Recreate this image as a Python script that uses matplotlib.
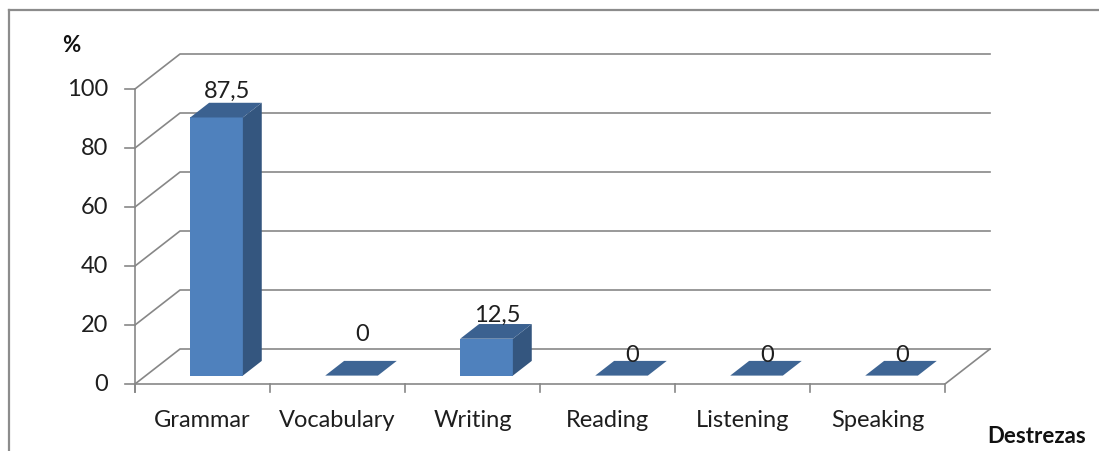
import matplotlib.pyplot as plt
from matplotlib.patches import Polygon
from matplotlib.lines import Line2D

categories = ['Grammar', 'Vocabulary', 'Writing', 'Reading', 'Listening', 'Speaking']
values = [87.5, 0, 12.5, 0, 0, 0]
value_labels = ['87,5', '0', '12,5', '0', '0', '0']
y_ticks = [0, 20, 40, 60, 80, 100]

# small nudges for the data labels (Excel puts them a bit oddly)
label_dy = [12, 17, 11, 10, 10, 10]

W, H = 1099, 452
fig = plt.figure(figsize=(W / 100, H / 100), dpi=100)
ax = fig.add_axes([0, 0, 1, 1])

# pixel frame: category 0 at x=135, 135 px per category; value 0 at y=385, 2.95 px per unit
x0, sx = 135, 135
y0, sy = 385, 2.95
ax.set_xlim(-x0 / sx, (W - x0) / sx)
ax.set_ylim(-(H - y0) / sy, y0 / sy)
ax.axis('off')

DX, DY = 45 / sx, 35 / sy   # depth of the 3d box
n = len(categories)
ymax = 100
grid_c = '#878787'
font = 'Lato'
fs = 17
txt_c = '#1e1e1e'


def P(x, y, d):
    return (x + d * DX, y + d * DY)


# left wall diagonals + back wall gridlines
for t in y_ticks:
    a = P(0, t, 0)
    b = P(0, t, 1)
    c = P(n, t, 1)
    ax.plot([a[0], b[0], c[0]], [a[1], b[1], c[1]], color=grid_c, lw=1.2, zorder=1)
    ax.plot([-10 / sx, 0], [t, t], color=grid_c, lw=1.2, zorder=1)
    ax.text(-27 / sx, t, str(t), ha='right', va='center', fontsize=fs,
            family=font, color=txt_c)

# front y axis
ax.plot([0, 0], [-8 / sy, ymax], color=grid_c, lw=1.2, zorder=1)
# floor front edge and right diagonal
fr = P(n, 0, 1)
ax.plot([0, n, fr[0]], [0, 0, fr[1]], color=grid_c, lw=1.2, zorder=1)
for i in range(n + 1):
    ax.plot([i, i], [0, -8 / sy], color=grid_c, lw=1.2, zorder=1)

# bars
f0, f1 = 0.24, 0.66
bw = 0.39
front_c = '#4F81BD'
side_c = '#34567F'
top_c = '#3B6190'
for i, v in enumerate(values):
    xl = i + 0.5 - bw / 2 + 0.024
    xr = xl + bw
    top = [P(xl, v, f0), P(xr, v, f0), P(xr, v, f1), P(xl, v, f1)]
    if v > 0:
        front = [P(xl, 0, f0), P(xr, 0, f0), P(xr, v, f0), P(xl, v, f0)]
        side = [P(xr, 0, f0), P(xr, 0, f1), P(xr, v, f1), P(xr, v, f0)]
        ax.add_patch(Polygon(front, closed=True, fc=front_c, ec='none', zorder=3))
        ax.add_patch(Polygon(side, closed=True, fc=side_c, ec='none', zorder=3))
        ax.add_patch(Polygon(top, closed=True, fc=top_c, ec='none', zorder=3))
    else:
        ax.add_patch(Polygon(top, closed=True, fc='#3E6594', ec='none', zorder=3))
    ax.text(i + 0.5 + 25 / sx, v + label_dy[i], value_labels[i], ha='center', va='center',
            fontsize=fs, family=font, color=txt_c, zorder=4)
    ax.text(i + 0.5, -36 / sy, categories[i], ha='center', va='center',
            fontsize=fs, family=font, color=txt_c)

ax.text(-73 / sx, 115, '%', ha='left', va='center', fontsize=16, family=font,
        fontweight='bold', color='#111111')
ax.text((1037 - x0) / sx, -(437 - y0) / sy, 'Destrezas', ha='center', va='center',
        fontsize=16, family=font, fontweight='bold', color='#111111')

# chart border (cut at the right and bottom)
fig.add_artist(Line2D([9 / W, 9 / W], [0, 1 - 11 / H], color='#8c8c8c', lw=1.6))
fig.add_artist(Line2D([9 / W, 1], [1 - 11 / H, 1 - 11 / H], color='#8c8c8c', lw=1.6))

fig.savefig('out.png', dpi=100)
